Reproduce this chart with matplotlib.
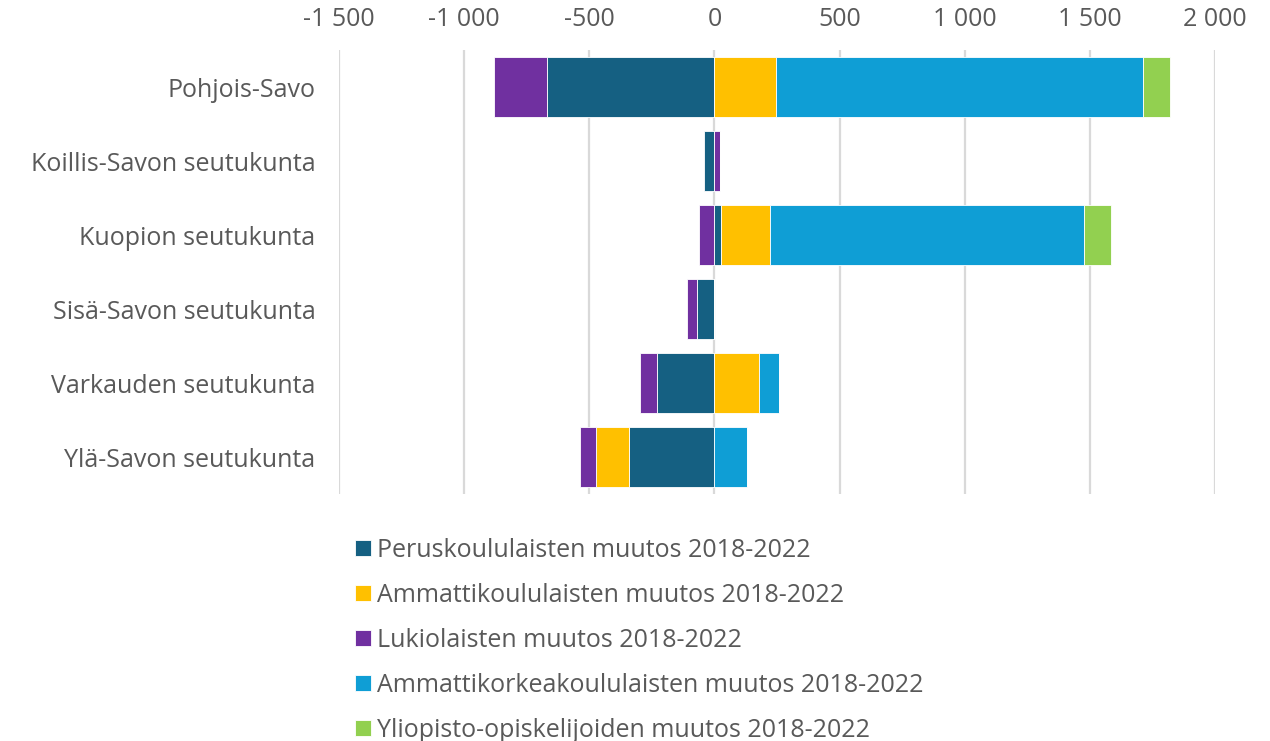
import numpy as np
import matplotlib
matplotlib.use("Agg")
import matplotlib.pyplot as plt
from matplotlib.ticker import FuncFormatter

plt.rcParams['font.family'] = ['Open Sans', 'DejaVu Sans']

regions = ["Pohjois-Savo", "Koillis-Savon seutukunta", "Kuopion seutukunta",
           "Sisä-Savon seutukunta", "Varkauden seutukunta", "Ylä-Savon seutukunta"]

series_names = ["Peruskoululaisten muutos 2018-2022",
                "Ammattikoululaisten muutos 2018-2022",
                "Lukiolaisten muutos 2018-2022",
                "Ammattikorkeakoululaisten muutos 2018-2022",
                "Yliopisto-opiskelijoiden muutos 2018-2022"]

peruskoulu = [-667, -42, 26, -68, -230, -342]
ammatti = [247, 0, 198, 0, 178, -130]
lukio = [-214, 22, -62, -40, -67, -67]
amk = [1464, 0, 1253, 0, 81, 131]
yliopisto = [109, 0, 109, 0, 0, 0]

colors = ["#156082", "#FFC000", "#7030A0", "#0F9ED5", "#92D050"]
text_col = "#595959"

fig = plt.figure(figsize=(12.7, 7.41), dpi=100)
ax = fig.add_axes([0.2669, 0.3333, 0.6898, 0.5992])

y = np.arange(len(regions))
pos_left = np.zeros(len(regions))
neg_left = np.zeros(len(regions))
handles = []
for vals, name, c in zip([peruskoulu, ammatti, lukio, amk, yliopisto], series_names, colors):
    vals = np.array(vals, dtype=float)
    left = np.where(vals >= 0, pos_left, neg_left)
    b = ax.barh(y, vals, left=left, height=0.82, color=c, edgecolor="white",
                linewidth=0.6, label=name, zorder=3)
    handles.append(b)
    pos_left += np.where(vals > 0, vals, 0)
    neg_left += np.where(vals < 0, vals, 0)

ax.set_xlim(-1500, 2000)
ax.set_ylim(len(regions) - 0.5, -0.5)
ax.set_xticks(np.arange(-1500, 2001, 500))
ax.xaxis.set_major_formatter(FuncFormatter(lambda v, p: f"{int(v):,}".replace(",", " ")))
ax.xaxis.tick_top()
ax.set_yticks(y)
ax.set_yticklabels(regions)
ax.tick_params(axis='x', length=0, pad=13, labelsize=18, labelcolor=text_col)
ax.tick_params(axis='y', length=0, pad=17, labelsize=18, labelcolor=text_col)
ax.grid(axis='x', color="#d9d9d9", linewidth=1.6, zorder=0)
for s in ax.spines.values():
    s.set_visible(False)

fig.legend(handles=handles, labels=series_names, loc="upper left",
           bbox_to_anchor=(0.272, 0.288), frameon=False, fontsize=18,
           labelcolor=text_col, handlelength=0.62, handleheight=0.62,
           handletextpad=0.25, labelspacing=0.8, borderaxespad=0)

fig.savefig("out.png", dpi=100)
